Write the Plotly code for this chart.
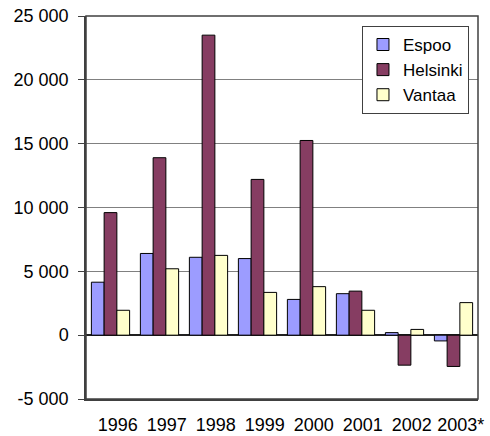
import plotly.graph_objects as go

years = ["1996", "1997", "1998", "1999", "2000", "2001", "2002", "2003*"]
espoo = [4150, 6400, 6100, 6000, 2800, 3250, 200, -450]
helsinki = [9600, 13900, 23500, 12200, 15250, 3450, -2350, -2450]
vantaa = [1950, 5200, 6250, 3350, 3800, 1950, 450, 2550]

y_ticks = [-5000, 0, 5000, 10000, 15000, 20000, 25000]
y_labels = ["-5 000", "0", "5 000", "10 000", "15 000", "20 000", "25 000"]

series = [
    ("Espoo", espoo, "#9C9CFF"),
    ("Helsinki", helsinki, "#863D62"),
    ("Vantaa", vantaa, "#FFFFCC"),
]

fig = go.Figure()
for name, vals, color in series:
    fig.add_bar(x=years, y=vals, name=name, marker_color=color,
                marker_line=dict(color="black", width=1))

font = dict(family="Liberation Sans, Arial, sans-serif", size=18, color="black")

fig.update_layout(
    width=490, height=436,
    margin=dict(l=86, r=12, t=16, b=37, autoexpand=False),
    paper_bgcolor="white", plot_bgcolor="white",
    font=font,
    barmode="group", bargap=0.22, bargroupgap=0,
    showlegend=True,
    legend=dict(x=0.977, y=0.974, xanchor="right", yanchor="top",
                bgcolor="white", bordercolor="#404040", borderwidth=1,
                font=dict(size=17), tracegroupgap=0, itemwidth=30),
)

fig.update_yaxes(
    range=[-5000, 25000], tickvals=y_ticks, ticktext=y_labels,
    showgrid=True, gridcolor="#808080", gridwidth=1,
    zeroline=True, zerolinecolor="#202020", zerolinewidth=1.5,
    showline=True, linecolor="#404040", linewidth=1.5,
    ticks="outside", ticklen=6, tickcolor="#404040",
    ticklabelstandoff=6, ticklabeloverflow="allow", automargin=False,
)
# Excel drew the year labels a little right of the bar groups
fig.update_xaxes(
    type="category", showline=True, linecolor="#404040", linewidth=1.5,
    ticks="", ticklabelstandoff=9, automargin=False,
    ticklabeloverflow="allow",
    tickvals=[i + 0.15 for i in range(len(years))], ticktext=years,
)

# category boundary ticks sitting on the zero line
fig.update_layout(xaxis2=dict(
    overlaying="x", anchor="free", position=1 / 6, type="linear",
    range=[-0.5, len(years) - 0.5],
    tickvals=[i + 0.5 for i in range(len(years) - 1)],
    ticks="outside", ticklen=5, tickcolor="black", tickwidth=1,
    showticklabels=False, showgrid=False, zeroline=False, showline=False,
    automargin=False,
))

# plot frame (mirror lines get lost with the overlaid axis)
fig.add_shape(type="rect", xref="paper", yref="paper", x0=0, y0=0, x1=1, y1=1,
              line=dict(color="#404040", width=1.5), layer="above")

# drop the default 8px body margin so the figure sits at the window corner
fig.write_html("out.html", config={"displayModeBar": False},
               post_script="document.body.style.margin = '0';")
